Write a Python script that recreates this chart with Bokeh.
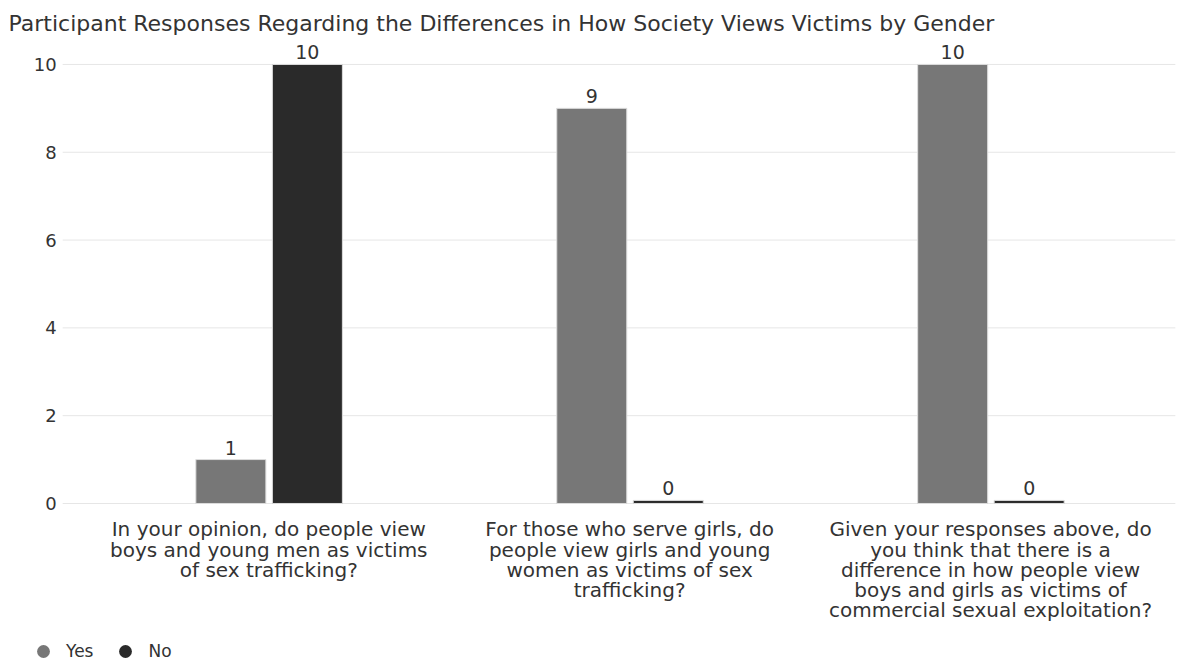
from bokeh.plotting import figure
from bokeh.models import ColumnDataSource, Range1d, Legend, LegendItem
from bokeh.core.properties import value
from bokeh.embed import file_html
from bokeh.resources import INLINE

title = "Participant Responses Regarding the Differences in How Society Views Victims by Gender"
categories = [
    "In your opinion, do people view\nboys and young men as victims\nof sex trafficking?",
    "For those who serve girls, do\npeople view girls and young\nwomen as victims of sex\ntrafficking?",
    "Given your responses above, do\nyou think that there is a\ndifference in how people view\nboys and girls as victims of\ncommercial sexual exploitation?",
]
series_names = ["Yes", "No"]
yes_values = [1, 9, 10]
no_values = [10, 0, 0]
y_ticks = [0, 2, 4, 6, 8, 10]

colors = ["#777777", "#2a2a2a"]
offsets = [-0.105, 0.107]
bar_w = 0.194
min_visible = 0.07
grid_x0, grid_x1 = -0.571, 2.512   # horizontal extent of the value grid
FONT = "DejaVu Sans"

# the frame covers the whole canvas below the title so that no label is clipped
p = figure(width=1190, height=663, output_backend="svg", toolbar_location=None,
           x_range=Range1d(-0.7433, 2.554), y_range=Range1d(-3.645, 10.5),
           min_border_left=0, min_border_right=0, min_border_top=42, min_border_bottom=0)
p.title.text = title
p.title.text_font = FONT
p.title.text_font_size = "22px"
p.title.text_font_style = "normal"
p.title.text_color = "#333333"
p.title.offset = 8
p.title.standoff = 14
p.outline_line_color = None
p.background_fill_color = "white"
p.xaxis.visible = False
p.yaxis.visible = False
p.grid.visible = False

# value grid and its tick labels
grid_src = ColumnDataSource(dict(y=y_ticks, lbl=[str(t) for t in y_ticks],
                                 x0=[grid_x0] * len(y_ticks), x1=[grid_x1] * len(y_ticks)))
p.segment(x0="x0", x1="x1", y0="y", y1="y", source=grid_src, line_color="#e6e6e6", line_width=1)
p.text(x="x0", y="y", text="lbl", source=grid_src, x_offset=-6,
       text_align="right", text_baseline="middle",
       text_font=value(FONT), text_font_size="18px", text_color="#333333")

for i, (name, vals) in enumerate(zip(series_names, [yes_values, no_values])):
    xs = [k + offsets[i] for k in range(len(categories))]
    src = ColumnDataSource(dict(x=xs, top=[max(v, min_visible) for v in vals],
                                v=vals, lbl=[str(v) for v in vals]))
    p.vbar(x="x", top="top", bottom=0, width=bar_w, source=src,
           fill_color=colors[i], line_color="#dddddd", line_width=1)
    p.text(x="x", y="top", text="lbl", source=src, y_offset=-5,
           text_align="center", text_baseline="bottom",
           text_font=value(FONT), text_font_size="19px", text_color="#333333")

cat_src = ColumnDataSource(dict(x=list(range(len(categories))), y=[0] * len(categories), t=categories))
p.text(x="x", y="y", text="t", source=cat_src, y_offset=14,
       text_align="center", text_baseline="top", text_line_height=0.84,
       text_font=value(FONT), text_font_size="20px", text_color="#333333")

dots = []
for i, name in enumerate(series_names):
    d = p.scatter(x=[0], y=[-50], size=12, marker="circle", fill_color=colors[i], line_color=None)
    dots.append(d)
legend = Legend(items=[LegendItem(label=n, renderers=[d]) for n, d in zip(series_names, dots)],
                orientation="horizontal", location=(27, -4),
                label_text_font=FONT, label_text_font_size="17px", label_text_color="#333333",
                label_height=32, glyph_height=32, glyph_width=32, label_standoff=7,
                border_line_color=None, background_fill_alpha=0, spacing=16,
                margin=0, padding=0)
p.add_layout(legend, "center")

open("out.html", "w").write(file_html(p, INLINE))
